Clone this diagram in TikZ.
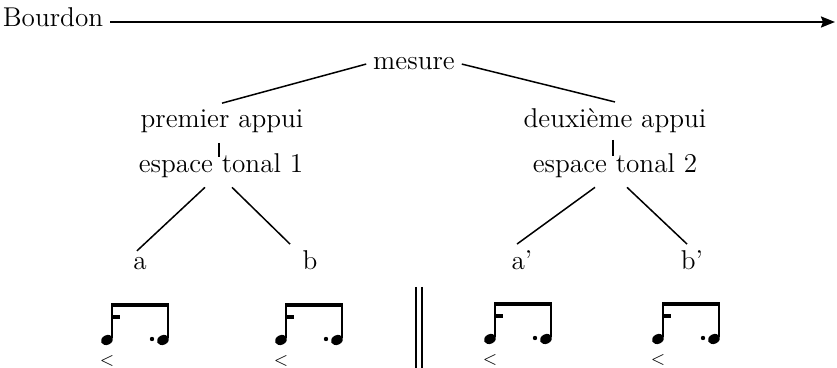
\documentclass[tikz,border=0pt]{standalone}
\usetikzlibrary{arrows.meta}
\begin{document}
\begin{tikzpicture}[>={Stealth[length=7pt,width=5.5pt,inset=1pt]},x=0.5pt,y=-0.5pt,
	  every node/.style={font=\fontsize{13.6}{16}\selectfont},
	  lien/.style={line width=0.75pt},
	  motif/.pic={
	    \fill (-0.8,-2) rectangle (56.8,2);
	    \fill (-0.8,10) rectangle (8,14);
	    \draw[line width=0.8pt] (0,0) -- (0,33);
	    \draw[line width=0.8pt] (56,0) -- (56,33);
	    \fill[rotate around={25:(-5,35)}] (-5,35) ellipse (6.3 and 4.8);
	    \fill[rotate around={25:(51,35)}] (51,35) ellipse (6.3 and 4.8);
	    \fill (40,34) circle (2.2);
	    \node[font=\fontsize{9}{9}\selectfont,inner sep=0pt] (lt) at (-5,56) {$<$};
	  }]
	  \useasboundingbox (0,0) rectangle (837,368);
	  \node[anchor=base] (bourdon) at (53,27) {Bourdon};
	  \coordinate (fin) at (835,22);
	  \draw[->,line width=1.1pt] ([yshift=2.5pt]bourdon.base east) -- (fin);
	  \node[anchor=base] (mesure) at (414,70) {mesure};
	  \node[anchor=base] (appui1) at (222,128) {premier appui};
	  \node[anchor=base] (appui2) at (615,128) {deuxième appui};
	  \node[anchor=base] (espace1) at (221,173) {espace tonal 1};
	  \node[anchor=base] (espace2) at (615,173) {espace tonal 2};
	  \node[anchor=base] (a) at (140,270) {a};
	  \node[anchor=base] (b) at (310,270) {b};
	  \node[anchor=base] (ap) at (522,270) {a'};
	  \node[anchor=base] (bp) at (692,270) {b'};
	  \draw[lien] (mesure.west) -- (appui1.north);
	  \draw[lien] (mesure.east) -- (appui2.north);
	  \draw[lien] ([xshift=-1.5pt,yshift=-7.5pt]appui1.base) -- ([xshift=-1pt,yshift=8pt]espace1.base);
	  \draw[lien] ([xshift=-1pt,yshift=-6pt]appui2.base) -- ([xshift=-1pt,yshift=8.5pt]espace2.base);
	  \draw[lien] ([xshift=-8pt,yshift=-1pt]espace1.south) -- ([xshift=-1.5pt]a.north);
	  \draw[lien] ([xshift=5.5pt,yshift=-1pt]espace1.south) -- ([xshift=-10pt]b.north);
	  \draw[lien] ([xshift=-10pt,yshift=-1pt]espace2.south) -- ([xshift=-2.5pt]ap.north);
	  \draw[lien] ([xshift=6pt,yshift=-1pt]espace2.south) -- ([xshift=-2.5pt]bp.north);
	  \pic (m1) at (112,305) {motif};
	  \pic (m2) at (286,305) {motif};
	  \pic (m3) at (495,304) {motif};
	  \pic (m4) at (663,304) {motif};
	  \draw[line width=0.6pt] (416,287) -- (416,368);
	  \draw[line width=0.6pt] (422,287) -- (422,368);
	\end{tikzpicture}
\end{document}
